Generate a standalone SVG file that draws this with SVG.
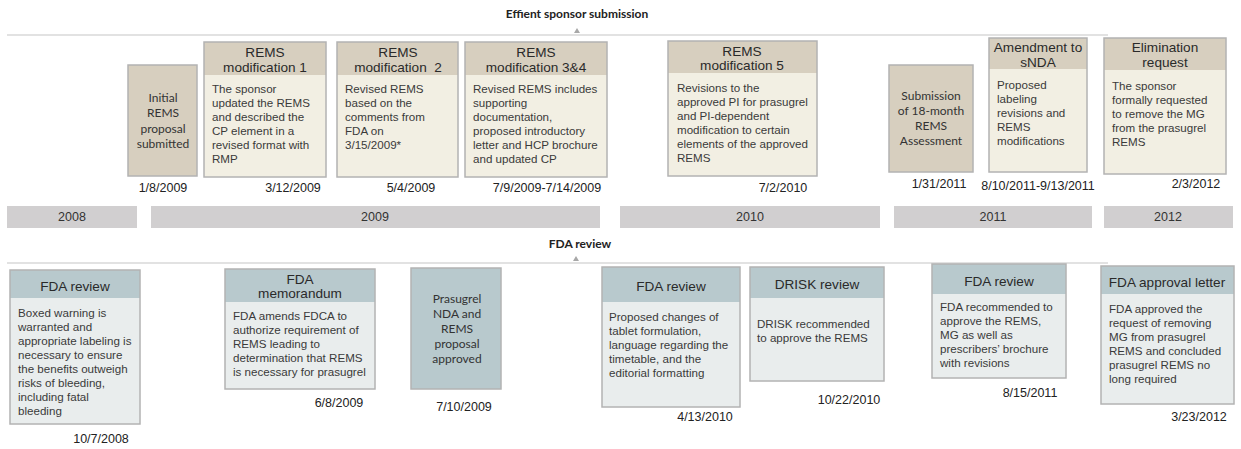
<svg xmlns="http://www.w3.org/2000/svg" width="1241" height="449" viewBox="0 0 1241 449">
<style>
.bg{fill:#ffffff}
.ax{stroke:#d9d9d9;stroke-width:1.5;fill:none}
.tri{fill:#a8a8a8}
.ttl{font-family:Lato,"Open Sans",sans-serif;font-weight:bold;font-size:12px;fill:#222;text-anchor:middle}
.th{fill:#d7cfbf}
.tb{fill:#f2efe3}
.bh{fill:#b8c9cd}
.bb{fill:#e9eded}
.bx{fill:none;stroke:#b3b3b3;stroke-width:1.5}
.hd{font-family:"Liberation Sans",Arial,sans-serif;font-size:13.6px;fill:#2a2a2a;text-anchor:middle}
.bd{font-family:"Liberation Sans",Arial,sans-serif;font-size:11.6px;fill:#3a3a3a}
.lt{font-family:Lato,"Open Sans",sans-serif;font-size:12px;fill:#333;text-anchor:middle}
.dt{font-family:"Liberation Sans",Arial,sans-serif;font-size:12.5px;fill:#222;text-anchor:middle}
.yr{fill:#d1cfd0}
.yt{font-family:"Liberation Sans",Arial,sans-serif;font-size:12.5px;fill:#333;text-anchor:middle}
</style>
<rect class="bg" x="0" y="0" width="1241" height="449"/>

<g id="connectors">
  <line class="ax" x1="7" y1="35" x2="1108" y2="35"/>
  <polygon class="tri" points="574,33 580,33 577,28"/>
  <line class="ax" x1="7" y1="263" x2="1108" y2="263"/>
  <polygon class="tri" points="573,261 579,261 576,256"/>
</g>

<g id="title-sponsor"><text class="ttl" x="577" y="18">Effient sponsor submission</text></g>
<g id="title-fda"><text class="ttl" x="580" y="248">FDA review</text></g>

<g id="years">
  <rect class="yr" x="7" y="206" width="130" height="22"/><text class="yt" x="72" y="221">2008</text>
  <rect class="yr" x="151" y="206" width="449" height="22"/><text class="yt" x="375" y="221">2009</text>
  <rect class="yr" x="620" y="206" width="260" height="22"/><text class="yt" x="750" y="221">2010</text>
  <rect class="yr" x="894" y="206" width="198" height="22"/><text class="yt" x="993" y="221">2011</text>
  <rect class="yr" x="1104" y="206" width="129" height="22"/><text class="yt" x="1168" y="221">2012</text>
</g>

<!-- top row -->
<g id="initial-rems">
  <rect class="th" x="128" y="65" width="69" height="111"/>
  <rect class="bx" x="128" y="65" width="69" height="111"/>
  <text class="lt" x="163" y="102">Initial</text>
  <text class="lt" x="163" y="117">REMS</text>
  <text class="lt" x="163" y="133">proposal</text>
  <text class="lt" x="163" y="148">submitted</text>
  <text class="dt" x="163" y="192">1/8/2009</text>
</g>

<g id="rems-mod1">
  <rect class="tb" x="204" y="42" width="122" height="135"/>
  <rect class="th" x="204" y="42" width="122" height="33"/>
  <rect class="bx" x="204" y="42" width="122" height="135"/>
  <text class="hd" x="265" y="57">REMS</text>
  <text class="hd" x="265" y="72">modification 1</text>
  <text class="bd" x="212" y="93">The sponsor</text>
  <text class="bd" x="212" y="107">updated the REMS</text>
  <text class="bd" x="212" y="121">and described the</text>
  <text class="bd" x="212" y="135">CP element in a</text>
  <text class="bd" x="212" y="149">revised format with</text>
  <text class="bd" x="212" y="163">RMP</text>
  <text class="dt" x="293" y="192">3/12/2009</text>
</g>

<g id="rems-mod2">
  <rect class="tb" x="337" y="42" width="121" height="135"/>
  <rect class="th" x="337" y="42" width="121" height="33"/>
  <rect class="bx" x="337" y="42" width="121" height="135"/>
  <text class="hd" x="398" y="57">REMS</text>
  <text class="hd" x="398" y="72" xml:space="preserve">modification  2</text>
  <text class="bd" x="345" y="93">Revised REMS</text>
  <text class="bd" x="345" y="107">based on the</text>
  <text class="bd" x="345" y="121">comments from</text>
  <text class="bd" x="345" y="135">FDA on</text>
  <text class="bd" x="345" y="149">3/15/2009*</text>
  <text class="dt" x="411" y="192">5/4/2009</text>
</g>

<g id="rems-mod34">
  <rect class="tb" x="465" y="42" width="142" height="135"/>
  <rect class="th" x="465" y="42" width="142" height="33"/>
  <rect class="bx" x="465" y="42" width="142" height="135"/>
  <text class="hd" x="536" y="57">REMS</text>
  <text class="hd" x="536" y="72">modification 3&amp;4</text>
  <text class="bd" x="473" y="93">Revised REMS includes</text>
  <text class="bd" x="473" y="107">supporting</text>
  <text class="bd" x="473" y="121">documentation,</text>
  <text class="bd" x="473" y="135">proposed introductory</text>
  <text class="bd" x="473" y="149">letter and HCP brochure</text>
  <text class="bd" x="473" y="163">and updated CP</text>
  <text class="dt" x="547" y="192">7/9/2009-7/14/2009</text>
</g>

<g id="rems-mod5">
  <rect class="tb" x="668" y="41" width="149" height="135"/>
  <rect class="th" x="668" y="41" width="149" height="32"/>
  <rect class="bx" x="668" y="41" width="149" height="135"/>
  <text class="hd" x="742" y="56">REMS</text>
  <text class="hd" x="742" y="70">modification 5</text>
  <text class="bd" x="677" y="92">Revisions to the</text>
  <text class="bd" x="677" y="106">approved PI for prasugrel</text>
  <text class="bd" x="677" y="120">and PI-dependent</text>
  <text class="bd" x="677" y="134">modification to certain</text>
  <text class="bd" x="677" y="148">elements of the approved</text>
  <text class="bd" x="677" y="162">REMS</text>
  <text class="dt" x="783" y="192">7/2/2010</text>
</g>

<g id="rems-assessment">
  <rect class="th" x="889" y="65" width="84" height="107"/>
  <rect class="bx" x="889" y="65" width="84" height="107"/>
  <text class="lt" x="931" y="100">Submission</text>
  <text class="lt" x="931" y="115">of 18-month</text>
  <text class="lt" x="931" y="130">REMS</text>
  <text class="lt" x="931" y="145">Assessment</text>
  <text class="dt" x="939" y="188">1/31/2011</text>
</g>

<g id="amendment-snda">
  <rect class="tb" x="989" y="38" width="98" height="134"/>
  <rect class="th" x="989" y="38" width="98" height="31"/>
  <rect class="bx" x="989" y="38" width="98" height="134"/>
  <text class="hd" x="1038" y="52">Amendment to</text>
  <text class="hd" x="1038" y="67">sNDA</text>
  <text class="bd" x="997" y="89">Proposed</text>
  <text class="bd" x="997" y="103">labeling</text>
  <text class="bd" x="997" y="117">revisions and</text>
  <text class="bd" x="997" y="131">REMS</text>
  <text class="bd" x="997" y="145">modifications</text>
  <text class="dt" x="1038" y="190">8/10/2011-9/13/2011</text>
</g>

<g id="elimination-request">
  <rect class="tb" x="1104" y="38" width="122" height="136"/>
  <rect class="th" x="1104" y="38" width="122" height="32"/>
  <rect class="bx" x="1104" y="38" width="122" height="136"/>
  <text class="hd" x="1165" y="52">Elimination</text>
  <text class="hd" x="1165" y="67">request</text>
  <text class="bd" x="1112" y="90">The sponsor</text>
  <text class="bd" x="1112" y="104">formally requested</text>
  <text class="bd" x="1112" y="118">to remove the MG</text>
  <text class="bd" x="1112" y="132">from the prasugrel</text>
  <text class="bd" x="1112" y="146">REMS</text>
  <text class="dt" x="1196" y="188">2/3/2012</text>
</g>

<!-- bottom row -->
<g id="fda-review-2008">
  <rect class="bb" x="10" y="270" width="130" height="154"/>
  <rect class="bh" x="10" y="270" width="130" height="28"/>
  <rect class="bx" x="10" y="270" width="130" height="154"/>
  <text class="hd" x="75" y="291">FDA review</text>
  <text class="bd" x="18" y="317">Boxed warning is</text>
  <text class="bd" x="18" y="331">warranted and</text>
  <text class="bd" x="18" y="345">appropriate labeling is</text>
  <text class="bd" x="18" y="359">necessary to ensure</text>
  <text class="bd" x="18" y="373">the benefits outweigh</text>
  <text class="bd" x="18" y="387">risks of bleeding,</text>
  <text class="bd" x="18" y="401">including fatal</text>
  <text class="bd" x="18" y="415">bleeding</text>
  <text class="dt" x="101" y="443">10/7/2008</text>
</g>

<g id="fda-memorandum">
  <rect class="bb" x="225" y="269" width="150" height="120"/>
  <rect class="bh" x="225" y="269" width="150" height="33"/>
  <rect class="bx" x="225" y="269" width="150" height="120"/>
  <text class="hd" x="300" y="284">FDA</text>
  <text class="hd" x="300" y="298">memorandum</text>
  <text class="bd" x="233" y="320">FDA amends FDCA to</text>
  <text class="bd" x="233" y="334">authorize requirement of</text>
  <text class="bd" x="233" y="348">REMS leading to</text>
  <text class="bd" x="233" y="362">determination that REMS</text>
  <text class="bd" x="233" y="376">is necessary for prasugrel</text>
  <text class="dt" x="339" y="407">6/8/2009</text>
</g>

<g id="nda-approved">
  <rect class="bh" x="411" y="268" width="90" height="121"/>
  <rect class="bx" x="411" y="268" width="90" height="121"/>
  <text class="lt" x="457" y="303">Prasugrel</text>
  <text class="lt" x="457" y="318">NDA and</text>
  <text class="lt" x="457" y="333">REMS</text>
  <text class="lt" x="457" y="348">proposal</text>
  <text class="lt" x="457" y="363">approved</text>
  <text class="dt" x="464" y="411">7/10/2009</text>
</g>

<g id="fda-review-2010">
  <rect class="bb" x="602" y="267" width="138" height="140"/>
  <rect class="bh" x="602" y="267" width="138" height="35"/>
  <rect class="bx" x="602" y="267" width="138" height="140"/>
  <text class="hd" x="671" y="291">FDA review</text>
  <text class="bd" x="609" y="321">Proposed changes of</text>
  <text class="bd" x="609" y="335">tablet formulation,</text>
  <text class="bd" x="609" y="349">language regarding the</text>
  <text class="bd" x="609" y="363">timetable, and the</text>
  <text class="bd" x="609" y="377">editorial formatting</text>
  <text class="dt" x="705" y="421">4/13/2010</text>
</g>

<g id="drisk-review">
  <rect class="bb" x="750" y="267" width="134" height="114"/>
  <rect class="bh" x="750" y="267" width="134" height="31"/>
  <rect class="bx" x="750" y="267" width="134" height="114"/>
  <text class="hd" x="817" y="289">DRISK review</text>
  <text class="bd" x="757" y="328">DRISK recommended</text>
  <text class="bd" x="757" y="342">to approve the REMS</text>
  <text class="dt" x="849" y="404">10/22/2010</text>
</g>

<g id="fda-review-2011">
  <rect class="bb" x="932" y="264" width="134" height="114"/>
  <rect class="bh" x="932" y="264" width="134" height="30"/>
  <rect class="bx" x="932" y="264" width="134" height="114"/>
  <text class="hd" x="999" y="286">FDA review</text>
  <text class="bd" x="940" y="311">FDA recommended to</text>
  <text class="bd" x="940" y="325">approve the REMS,</text>
  <text class="bd" x="940" y="339">MG as well as</text>
  <text class="bd" x="940" y="353">prescribers’ brochure</text>
  <text class="bd" x="940" y="367">with revisions</text>
  <text class="dt" x="1030" y="397">8/15/2011</text>
</g>

<g id="fda-approval-letter">
  <rect class="bb" x="1101" y="266" width="133" height="138"/>
  <rect class="bh" x="1101" y="266" width="133" height="28"/>
  <rect class="bx" x="1101" y="266" width="133" height="138"/>
  <text class="hd" x="1167" y="287">FDA approval letter</text>
  <text class="bd" x="1109" y="313">FDA approved the</text>
  <text class="bd" x="1109" y="327">request of removing</text>
  <text class="bd" x="1109" y="341">MG from prasugrel</text>
  <text class="bd" x="1109" y="355">REMS and concluded</text>
  <text class="bd" x="1109" y="369">prasugrel REMS no</text>
  <text class="bd" x="1109" y="383">long required</text>
  <text class="dt" x="1199" y="421">3/23/2012</text>
</g>
</svg>
